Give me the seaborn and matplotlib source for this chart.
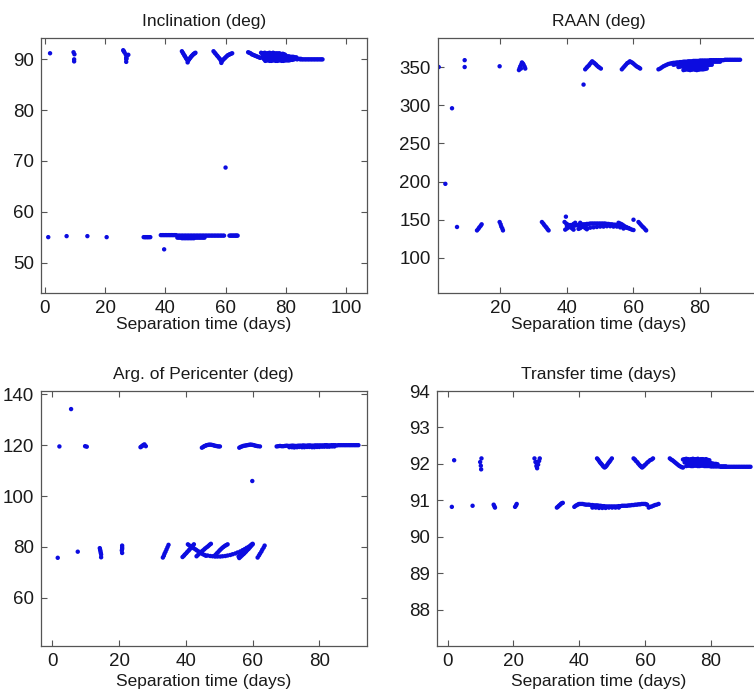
import numpy as np
import pandas as pd
import matplotlib
matplotlib.use('Agg')
import matplotlib.pyplot as plt
import seaborn as sns

# Inclination (deg) vs separation time
incl_x = [
    1.7,
    9.5, 9.8, 9.7, 9.7,
    26.0, 26.4, 26.8, 27.3, 27.7, 27.0, 27.0, 27.0, 26.2, 27.1,
    45.5, 45.8, 46.0, 46.3, 46.5, 46.8, 47.0, 47.3, 47.5, 47.8, 48.0, 48.3, 48.5, 48.8, 49.0, 49.3, 49.5, 49.8, 50.0, 47.4,
    56.0, 56.4, 56.7, 57.1, 57.4, 57.8, 58.1, 58.4, 58.7, 59.0, 59.3, 59.7, 60.0, 60.4, 60.7, 61.1, 61.4, 61.8, 62.2, 58.6,
    67.5, 67.9, 68.3, 68.7, 69.1, 69.5, 69.9, 70.3, 70.7, 71.1, 71.5,
    71.8, 72.2, 72.6, 73.0, 73.4, 73.8, 74.2, 74.6, 75.0, 75.4, 75.8, 76.2, 76.6, 77.0, 77.4, 77.8, 78.2, 78.6, 79.0, 79.4, 79.8,
    72.5, 73.0, 73.5, 74.0, 74.5, 75.0, 75.5, 76.0, 76.5, 77.0, 77.5, 78.0, 78.5, 79.0, 79.5, 80.0, 80.5, 81.0, 81.5, 82.0, 82.5, 83.0, 83.5,
    72.0, 72.5, 73.0, 73.5, 74.0, 74.5, 75.0, 75.5, 76.0, 76.5, 77.0, 77.5, 78.0, 78.5, 79.0, 79.5, 80.0, 80.5, 81.0, 81.5,
    82.0, 82.5, 83.0, 83.5, 84.0, 84.5, 85.0,
    72.8, 73.8, 74.8, 75.8, 76.8, 77.8, 78.8, 79.8, 80.8, 81.8, 82.8, 83.8, 84.8,
    85.3, 85.8, 86.3, 86.8, 87.3, 87.8, 88.3, 88.8, 89.3, 89.8, 90.3, 90.8, 91.3, 91.8, 92.2,
    73.2, 73.7, 74.2, 74.7, 75.2, 75.7, 76.2, 76.7, 77.2, 77.7, 78.2, 78.7, 79.2, 79.7, 80.2, 80.7, 81.2, 81.7, 82.2,
    1.1, 7.2, 14.1, 20.5,
    32.8, 33.2, 33.5, 33.9, 34.2, 34.6, 35.0,
    38.5, 39.0, 39.5, 40.0, 40.5, 41.0, 41.5, 42.0, 42.5, 43.0, 43.5, 44.0, 44.5, 45.0, 45.5, 46.0, 46.5, 47.0,
    47.5, 48.0, 48.5, 49.0, 49.5, 50.0, 50.5, 51.0, 51.5, 52.0, 52.5, 53.0, 53.5, 54.0, 54.5, 55.0, 55.5, 56.0,
    56.5, 57.0, 57.5, 58.0, 58.5, 59.0, 59.5,
    44.0, 44.5, 45.0, 45.5, 46.0, 46.5, 47.0, 47.5, 48.0, 48.5, 49.0, 49.5, 50.0, 50.5, 51.0, 51.5, 52.0, 52.5, 53.0,
    61.3, 61.7, 62.0, 62.4, 62.7, 63.1, 63.4, 63.7, 64.0,
    39.6, 60.0,
]
incl_y = [
    91.2,
    91.4, 91.0, 90.0, 89.6,
    91.8, 91.4, 91.0, 90.8, 90.9, 90.4, 90.0, 89.5, 91.6, 90.2,
    91.6, 91.3, 91.1, 90.8, 90.6, 90.3, 90.1, 89.9, 89.7, 89.9, 90.1, 90.3, 90.5, 90.7, 90.8, 91.0, 91.1, 91.2, 91.3, 89.4,
    91.6, 91.3, 91.1, 90.8, 90.6, 90.3, 90.1, 89.8, 89.6, 89.8, 90.0, 90.2, 90.4, 90.6, 90.8, 90.9, 91.0, 91.1, 91.2, 89.3,
    91.4, 91.3, 91.2, 91.0, 90.9, 90.8, 90.7, 90.6, 90.5, 90.4, 90.3,
    91.3, 91.2, 91.2, 91.3, 91.1, 91.2, 91.2, 91.3, 91.1, 91.2, 91.3, 91.2, 91.1, 91.2, 91.1, 91.2, 91.1, 91.0, 91.1, 91.0, 90.9,
    90.8, 90.7, 90.7, 90.8, 90.8, 90.7, 90.8, 90.7, 90.8, 90.7, 90.7, 90.8, 90.7, 90.6, 90.6, 90.6, 90.6, 90.6, 90.5, 90.5, 90.5, 90.4, 90.4,
    90.4, 90.3, 90.3, 90.4, 90.3, 90.4, 90.4, 90.3, 90.3, 90.4, 90.3, 90.3, 90.3, 90.3, 90.3, 90.3, 90.2, 90.2, 90.2, 90.2,
    90.2, 90.2, 90.2, 90.1, 90.1, 90.1, 90.1,
    90.0, 90.0, 90.0, 90.0, 90.0, 90.0, 90.0, 90.0, 90.0, 90.0, 90.0, 90.0, 90.0,
    90.0, 90.0, 90.0, 90.0, 90.0, 90.0, 90.0, 90.0, 90.0, 90.0, 90.0, 90.0, 90.0, 90.0, 90.0,
    89.7, 89.8, 89.8, 89.7, 89.7, 89.8, 89.8, 89.7, 89.7, 89.8, 89.8, 89.7, 89.7, 89.8, 89.8, 89.8, 89.8, 89.9, 89.9,
    55.0, 55.2, 55.2, 55.0,
    55.0, 55.0, 55.0, 55.0, 55.0, 55.0, 55.0,
    55.4, 55.4, 55.4, 55.4, 55.4, 55.4, 55.4, 55.4, 55.4, 55.4, 55.4, 55.3, 55.3, 55.3, 55.3, 55.3, 55.3, 55.3,
    55.3, 55.3, 55.3, 55.3, 55.3, 55.3, 55.3, 55.3, 55.3, 55.3, 55.3, 55.3, 55.3, 55.3, 55.3, 55.3, 55.3, 55.3,
    55.3, 55.3, 55.3, 55.3, 55.3, 55.3, 55.3,
    54.9, 54.9, 54.9, 54.8, 54.8, 54.8, 54.8, 54.8, 54.8, 54.8, 54.8, 54.8, 54.9, 54.9, 54.9, 54.9, 54.9, 54.9, 54.9,
    55.3, 55.3, 55.3, 55.3, 55.3, 55.3, 55.3, 55.3, 55.3,
    52.6, 68.7,
]

# RAAN (deg) vs separation time
raan_x = [
    1.5, 3.5, 5.5, 7.0, 9.3, 9.3, 19.8,
    25.6, 25.8, 26.0, 26.3, 26.5, 26.8, 27.0, 27.3, 27.5, 26.2,
    45.5, 45.9, 46.2, 46.6, 46.9, 47.3, 47.6, 48.0, 48.3, 48.7, 49.0, 49.4, 49.7, 50.2,
    45.0,
    56.5, 56.9, 57.3, 57.7, 58.1, 58.5, 58.9, 59.3, 59.7, 60.1, 60.5, 60.9, 61.3, 61.7, 62.0,
    67.5, 68.0, 68.5, 69.0, 69.5, 70.0, 70.5, 71.0, 71.5, 72.0, 72.5,
    73.0, 73.5, 74.0, 74.5, 75.0, 75.5, 76.0, 76.5, 77.0, 77.5, 78.0, 78.5, 79.0, 79.5, 80.0, 80.5, 81.0,
    81.5, 82.0, 82.5, 83.0, 83.5, 84.0, 84.5, 85.0, 85.5, 86.0, 86.5, 87.0, 87.5, 88.0, 88.5, 89.0,
    89.5, 90.0, 90.5, 91.0, 91.5, 92.0,
    72.0, 72.5, 73.0, 73.5, 74.0, 74.5, 75.0, 75.5, 76.0, 76.5, 77.0, 77.5, 78.0, 78.5, 79.0, 79.5,
    80.0, 80.5, 81.0, 81.5, 82.0, 82.5, 83.0, 83.5, 84.0, 84.5, 85.0, 85.5, 86.0,
    73.5, 74.0, 74.5, 75.0, 75.5, 76.0, 76.5, 77.0, 77.5, 78.0, 78.5, 79.0, 79.5, 80.0, 80.5, 81.0,
    81.5, 82.0, 82.5, 83.0, 83.5,
    75.0, 75.5, 76.0, 76.5, 77.0, 77.5, 78.0, 78.5, 79.0, 79.5, 80.0, 80.5, 81.0, 81.5, 82.0,
    13.0, 13.4, 13.7, 14.1, 14.4,
    19.8, 20.1, 20.3, 20.6, 20.8,
    32.5, 32.9, 33.2, 33.6, 33.9, 34.2, 34.5,
    39.7,
    40.0, 40.5, 41.0, 41.5, 42.0, 42.5, 43.0, 43.5, 44.0, 44.5, 45.0, 45.5, 46.0, 46.5, 47.0, 47.5,
    48.0, 48.5, 49.0, 49.5, 50.0, 50.5, 51.0, 51.5, 52.0, 52.5, 53.0, 53.5, 54.0, 54.5, 55.0, 55.5,
    56.0, 56.5, 57.0, 57.5, 58.0, 58.5, 59.0, 59.5, 60.0,
    39.3, 39.8, 40.3, 40.8, 41.2, 41.6, 42.0, 39.5, 40.0, 40.5, 41.0, 41.5, 42.0, 42.5,
    43.5, 44.0, 44.5, 45.0, 45.5, 44.0, 44.5, 45.0, 45.5, 46.0,
    46.0, 47.0, 48.0, 49.0, 50.0, 51.0, 52.0, 53.0, 54.0, 55.0, 56.0, 57.0,
    55.5, 56.0, 56.5, 57.0, 57.5, 58.0, 58.5,
    60.0,
    61.5, 61.9, 62.3, 62.7, 63.1, 63.5, 63.8,
]
raan_y = [
    350, 197, 296, 140.5, 359, 350, 351,
    346, 348.5, 351, 353.5, 356, 354.5, 353, 350.5, 348, 348,
    347, 349, 350.5, 352, 354, 356, 357.5, 356, 355, 353.5, 352, 350.5, 349.5, 348,
    327,
    347, 349, 351, 353, 355, 356, 357.5, 356.5, 355.5, 354, 352.5, 351, 350, 349, 348,
    347, 348, 349.5, 351, 352, 353, 354, 354.5, 355, 355.5, 355.5,
    356, 356, 356.5, 356.5, 357, 357, 357, 357.5, 357.5, 357.5, 358, 358, 358, 358, 358.5, 358.5, 358.5,
    358.5, 358.5, 358.5, 359, 359, 359, 359, 359, 359, 359, 359, 359, 359.5, 359.5, 359.5, 359.5,
    359.5, 359.5, 359.5, 359.5, 359.5, 359.5,
    353, 353.5, 354, 354.5, 355, 354.5, 354, 354.5, 355, 354.5, 354, 354.5, 355, 354.5, 354, 354.5,
    355, 355, 355, 355.5, 356, 356, 356, 356.5, 357, 357, 357, 357, 357,
    350, 350.5, 351, 350.5, 350, 350.5, 351, 350.5, 350, 350.5, 351, 350.5, 350, 350.5, 351, 351.5,
    352, 352, 352.5, 353, 353,
    346, 346.5, 347, 346.5, 346, 346.5, 347, 346.5, 346, 346.5, 347, 347, 347, 347.5, 348,
    136, 138, 140, 142, 144,
    147, 144, 141, 138.5, 136,
    147, 145, 143, 141, 139.5, 137.5, 136,
    154,
    142, 142.5, 143, 142.5, 142, 142.5, 143, 143, 143.5, 143.5, 144, 144, 144.5, 144.5, 145, 145,
    145, 145, 145, 145, 145, 145, 145, 145, 144.5, 144.5, 144, 144, 143.5, 143.5, 143, 142.5,
    142, 141.5, 141, 140, 139.5, 139, 138, 137, 136.5,
    147, 145, 143.5, 141.5, 140, 138.5, 137, 137, 138.5, 140, 141.5, 143, 144.5, 146,
    138, 139, 140.5, 142, 143, 146, 143.5, 141, 139, 137.5,
    139, 139.5, 140, 140.5, 141, 141, 141.5, 141.5, 141, 141, 140, 138.5,
    146, 145, 144, 142.5, 141, 140, 139,
    150,
    147, 145, 143, 141, 139.5, 137.5, 136,
]

# Arg. of pericenter (deg) vs separation time
argp_x = [
    2.1, 5.6, 9.8, 10.3,
    26.4, 26.7, 27.0, 27.3, 27.6, 28.0,
    44.8, 45.2, 45.5, 45.9, 46.2, 46.6, 47.0, 47.4, 47.8, 48.2, 48.6, 49.0, 49.4, 49.8, 50.2,
    56.0, 56.4, 56.8, 57.2, 57.6, 58.0, 58.4, 58.8, 59.2, 59.6, 60.0, 60.4, 60.8, 61.2, 61.6, 62.2,
    59.9,
    67.2, 67.7, 68.2, 68.7, 69.2, 69.7, 70.2, 70.7, 71.2, 71.7, 72.2, 72.7, 73.2, 73.7, 74.2, 74.7,
    75.2, 75.7, 76.2, 76.7, 77.2, 77.7, 78.2, 78.7, 79.2, 79.7, 80.2, 80.7, 81.2, 81.7, 82.2, 82.7,
    83.2, 83.7, 84.2, 84.7, 85.2, 85.7, 86.2, 86.7, 87.2, 87.7, 88.2, 88.7, 89.2, 89.7, 90.2, 90.7,
    91.2, 91.7,
    71.0, 71.8, 72.5, 73.3, 74.0, 74.8, 75.5, 76.3, 77.0, 77.8, 78.5, 79.3, 80.0, 80.8, 81.5, 82.3,
    83.0, 83.8, 84.5,
    1.6, 7.6,
    14.2, 14.3, 14.4, 14.5, 14.6, 14.6,
    20.9, 20.9, 20.9, 20.8, 20.9,
    33.1, 33.4, 33.6, 33.9, 34.2, 34.5, 34.8,
    39.0, 39.4, 39.7, 40.1, 40.4, 40.8, 41.1, 41.5, 41.8, 42.1, 42.4,
    40.6, 41.0, 41.5, 42.0, 42.4, 42.9, 43.3, 43.8, 44.2, 44.7, 45.1, 45.6, 46.0,
    43.2, 43.6, 44.0, 44.5, 44.9, 45.4, 45.8, 46.3, 46.7, 47.1, 47.5,
    46.5, 47.3, 48.0, 48.8, 49.5, 50.3, 51.0, 51.8, 52.5, 53.3, 54.0, 54.8, 55.5, 56.3, 57.0, 57.6,
    58.2, 58.8, 59.3, 59.7, 60.0,
    48.5, 48.9, 49.3, 49.7, 50.1, 50.5, 50.9, 51.3, 51.7, 52.1, 52.5,
    56.0, 56.4, 56.8, 57.2, 57.6, 58.0, 58.4, 58.8, 59.2, 59.6, 60.0,
    55.8, 56.2, 56.6, 57.0, 57.4,
    61.5, 61.9, 62.2, 62.6, 62.9, 63.3, 63.6,
]
argp_y = [
    119.5, 134.2, 119.6, 119.4,
    119.2, 119.5, 119.8, 120.1, 120.3, 119.6,
    119.0, 119.3, 119.6, 119.8, 120.0, 120.1, 120.2, 120.2, 120.1, 120.0, 119.8, 119.7, 119.6, 119.5, 119.5,
    119.0, 119.3, 119.5, 119.7, 119.8, 119.9, 120.0, 120.1, 120.2, 120.2, 120.1, 120.0, 119.8, 119.7, 119.6, 119.5,
    105.9,
    119.5, 119.6, 119.7, 119.6, 119.6, 119.7, 119.8, 119.7, 119.7, 119.8, 119.8, 119.7, 119.7, 119.8, 119.8, 119.8,
    119.9, 119.8, 119.8, 119.9, 119.9, 119.8, 119.8, 119.9, 119.9, 119.9, 119.9, 119.9, 119.9, 120.0, 120.0, 119.9,
    119.9, 120.0, 120.0, 120.0, 119.9, 120.0, 120.0, 120.0, 120.0, 120.0, 120.0, 120.0, 120.0, 120.0, 120.0, 120.0,
    120.0, 120.0,
    119.2, 119.2, 119.1, 119.2, 119.3, 119.2, 119.2, 119.3, 119.3, 119.2, 119.2, 119.3, 119.3, 119.4, 119.4, 119.4,
    119.4, 119.5, 119.5,
    75.7, 78.1,
    79.5, 78.9, 78.3, 77.6, 77.0, 75.9,
    80.5, 79.8, 79.2, 78.6, 77.6,
    75.8, 76.5, 77.3, 78.1, 79.0, 79.9, 80.8,
    76.0, 76.5, 77.0, 77.5, 78.0, 78.5, 79.0, 79.5, 80.0, 80.5, 81.0,
    81.0, 80.6, 80.2, 79.8, 79.4, 79.0, 78.6, 78.2, 77.8, 77.5, 77.1, 76.8, 76.5,
    76.3, 76.8, 77.3, 77.9, 78.4, 78.9, 79.4, 79.9, 80.3, 80.8, 81.2,
    76.6, 76.4, 76.3, 76.2, 76.2, 76.2, 76.3, 76.4, 76.6, 76.8, 77.1, 77.4, 77.8, 78.2, 78.7, 79.1,
    79.6, 80.0, 80.5, 80.9, 81.2,
    76.4, 76.9, 77.5, 78.0, 78.6, 79.1, 79.6, 80.0, 80.4, 80.7, 81.0,
    75.6, 76.1, 76.6, 77.1, 77.6, 78.1, 78.7, 79.2, 79.8, 80.4, 81.0,
    76.2, 76.6, 77.0, 77.2, 77.4,
    75.8, 76.6, 77.3, 78.1, 78.9, 79.7, 80.5,
]

# Transfer time (days) vs separation time
ttof_x = [
    2.0,
    10.3, 9.9, 10.1, 10.2,
    26.4, 26.7, 27.0, 27.2, 27.5, 27.8, 28.0, 27.2, 27.1,
    45.4, 45.7, 46.0, 46.3, 46.6, 46.9, 47.2, 47.5, 47.7, 48.0, 48.3, 48.6, 48.9, 49.2, 49.5, 49.9,
    56.5, 56.9, 57.2, 57.6, 57.9, 58.3, 58.6, 58.9, 59.1, 59.5, 59.8, 60.2, 60.6, 61.0, 61.5, 62.0, 62.4,
    67.5, 67.9, 68.3, 68.7, 69.1, 69.5, 69.9, 70.3, 70.7, 71.1, 71.5,
    71.5, 72.0, 72.5, 73.0, 73.5, 74.0, 74.5, 75.0, 75.5, 76.0, 76.5, 77.0, 77.5, 78.0, 78.5, 79.0, 79.5,
    72.0, 72.5, 73.0, 73.5, 74.0, 74.5, 75.0, 75.5, 76.0, 76.5, 77.0, 77.5, 78.0, 78.5, 79.0, 79.5,
    80.0, 80.5, 81.0, 81.5, 82.0,
    72.5, 73.0, 73.5, 74.0, 74.5, 75.0, 75.5, 76.0, 76.5, 77.0, 77.5, 78.0, 78.5, 79.0, 79.5, 80.0,
    80.5, 81.0, 81.5, 82.0, 82.5, 83.0, 83.5, 84.0, 84.5,
    83.0, 83.5, 84.0, 84.5, 85.0, 85.5, 86.0, 86.5, 87.0, 87.5, 88.0, 88.5, 89.0, 89.5, 90.0, 90.5,
    91.0, 91.5, 92.0,
    1.3, 7.6, 14.0, 14.2, 14.4, 20.5, 20.8, 21.0,
    33.2, 33.5, 33.8, 34.1, 34.4, 34.7, 35.0,
    38.5, 38.9, 39.3, 39.7, 40.0, 40.5, 41.0, 41.5, 42.0, 42.5, 43.0, 43.5, 44.0, 44.5, 45.0, 45.5,
    46.0, 46.5, 47.0, 47.5, 48.0, 48.5, 49.0, 49.5, 50.0, 50.5, 51.0, 51.5, 52.0, 52.5, 53.0, 53.5,
    54.0, 54.5, 55.0, 55.5, 56.0, 56.5, 57.0, 57.5, 58.0, 58.5, 59.0, 59.5, 60.0, 60.3, 60.6,
    44.0, 45.0, 46.0, 47.0, 48.0, 49.0, 50.0, 51.0, 52.0,
    61.1, 61.5, 62.0, 62.5, 63.0, 63.5, 64.1,
]
ttof_y = [
    92.1,
    92.15, 92.05, 91.95, 91.85,
    92.15, 92.05, 91.95, 91.88, 91.98, 92.08, 92.15, 92.05, 91.92,
    92.15, 92.12, 92.08, 92.04, 92.01, 91.98, 91.94, 91.92, 91.9, 91.92, 91.95, 91.99, 92.03, 92.06, 92.1, 92.15,
    92.15, 92.12, 92.08, 92.05, 92.01, 91.97, 91.94, 91.92, 91.9, 91.93, 91.96, 91.99, 92.03, 92.06, 92.1, 92.12, 92.15,
    92.15, 92.12, 92.1, 92.07, 92.04, 92.01, 91.98, 91.95, 91.93, 91.91, 91.9,
    92.12, 92.13, 92.14, 92.13, 92.12, 92.13, 92.14, 92.13, 92.13, 92.14, 92.12, 92.13, 92.13, 92.12, 92.13, 92.11, 92.1,
    92.04, 92.05, 92.05, 92.04, 92.04, 92.05, 92.05, 92.04, 92.04, 92.05, 92.05, 92.04, 92.04, 92.03, 92.03, 92.02,
    92.02, 92.01, 92.0, 92.0, 91.99,
    91.94, 91.95, 91.95, 91.94, 91.94, 91.95, 91.95, 91.94, 91.94, 91.95, 91.95, 91.94, 91.94, 91.94, 91.94, 91.93,
    91.93, 91.93, 91.93, 91.93, 91.93, 91.93, 91.93, 91.93, 91.93,
    91.92, 91.92, 91.92, 91.92, 91.92, 91.92, 91.92, 91.92, 91.92, 91.92, 91.92, 91.92, 91.92, 91.92, 91.92, 91.92,
    91.92, 91.92, 91.92,
    90.82, 90.85, 90.88, 90.84, 90.8, 90.82, 90.86, 90.9,
    90.8, 90.82, 90.85, 90.87, 90.9, 90.92, 90.93,
    90.82, 90.85, 90.87, 90.89, 90.9, 90.9, 90.9, 90.89, 90.88, 90.88, 90.88, 90.87, 90.87, 90.86, 90.86, 90.86,
    90.85, 90.85, 90.84, 90.84, 90.83, 90.83, 90.83, 90.83, 90.83, 90.83, 90.83, 90.83, 90.84, 90.84, 90.85, 90.85,
    90.85, 90.85, 90.86, 90.86, 90.87, 90.87, 90.88, 90.88, 90.89, 90.89, 90.9, 90.9, 90.9, 90.89, 90.88,
    90.8, 90.8, 90.79, 90.79, 90.79, 90.8, 90.8, 90.8, 90.8,
    90.8, 90.82, 90.83, 90.85, 90.87, 90.88, 90.9,
]

panels = [
    ('Inclination (deg)', incl_x, incl_y, [0, 20, 40, 60, 80, 100], [50, 60, 70, 80, 90],
     (-1.3, 107), (44, 94.2), [0.0544, 0.5808, 0.4324, 0.3648], 0),
    ('RAAN (deg)', raan_x, raan_y, [20, 40, 60, 80], [100, 150, 200, 250, 300, 350],
     (1.2, 98), (54, 388), [0.5805, 0.5808, 0.4275, 0.3648], 0),
    ('Arg. of Pericenter (deg)', argp_x, argp_y, [0, 20, 40, 60, 80], [60, 80, 100, 120, 140],
     (-3.5, 94.2), (41, 141.3), [0.054, 0.0758, 0.4324, 0.3648], 3),
    ('Transfer time (days)', ttof_x, ttof_y, [0, 20, 40, 60, 80], [88, 89, 90, 91, 92, 93, 94],
     (-3.2, 94.9), (87, 94), [0.5796, 0.0758, 0.4284, 0.3648], 3),
]

sns.set_theme(style="white")
plt.rcParams['font.family'] = ['Liberation Sans', 'DejaVu Sans']

fig = plt.figure(figsize=(7.54, 6.99), dpi=100)

for title, xs, ys, xt, yt, xl, yl, pos, lpad in panels:
    assert len(xs) == len(ys), title
    ax = fig.add_axes(pos)
    df = pd.DataFrame({'sep': xs, 'val': ys})
    sns.scatterplot(data=df, x='sep', y='val', ax=ax, s=10, color='#0c0ce0',
                    edgecolor='none', linewidth=0)
    ax.set_xlim(*xl)
    ax.set_ylim(*yl)
    ax.set_xticks(xt)
    ax.set_yticks(yt)
    ax.tick_params(direction='in', length=4, width=0.8, top=True, right=True,
                   bottom=True, left=True, labelsize=13.5, colors='#555555',
                   labelcolor='#1a1a1a', pad=5)
    for sp in ax.spines.values():
        sp.set_color('#555555')
        sp.set_linewidth(0.9)
    ax.set_title(title, fontsize=12.5, color='#1a1a1a', pad=9)
    ax.set_xlabel('Separation time (days)', fontsize=12.5, color='#1a1a1a', labelpad=lpad)
    ax.set_ylabel('')

fig.savefig('out.png', dpi=100)
